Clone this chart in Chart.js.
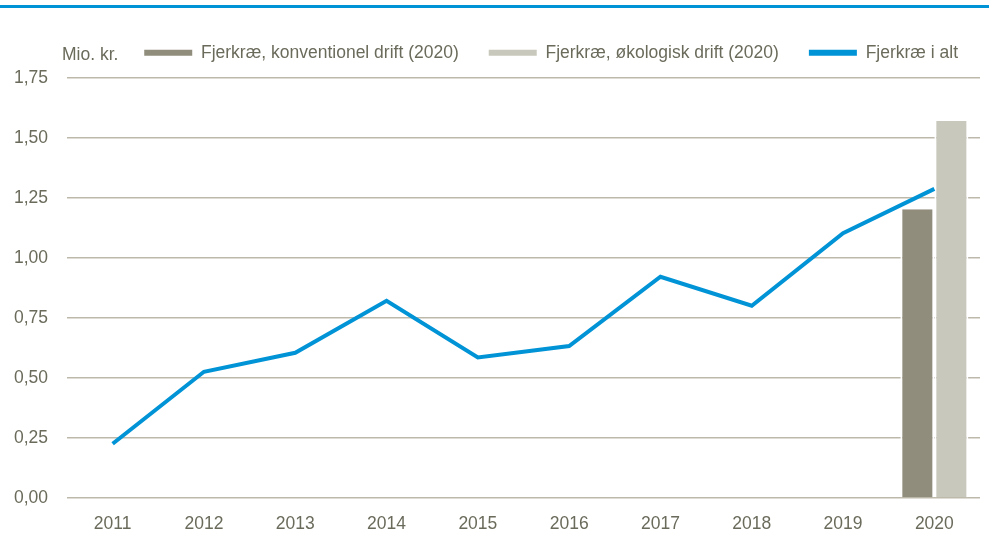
<!DOCTYPE html>
<html>
<head>
<meta charset="utf-8">
<script src="https://cdn.jsdelivr.net/npm/chart.js@4/dist/chart.umd.min.js"></script>
<style>
    html, body { margin: 0; padding: 0; background: #fff; }
    #wrap { position: relative; width: 989px; height: 540px; }
    #topline { position: absolute; left: 0; top: 5px; width: 989px; height: 3px; background: #0093d6; }
    #myChart { position: absolute; left: 0; top: 0; }
</style>
</head>
<body>
<div id="wrap">
    <canvas id="myChart" width="989" height="540"></canvas>
    <div id="topline"></div>
</div>
<script>
// data
var years = ['2011','2012','2013','2014','2015','2016','2017','2018','2019','2020'];
var konventionel = [null,null,null,null,null,null,null,null,null,1.203];
var oekologisk = [null,null,null,null,null,null,null,null,null,1.571];
var i_alt = [0.226,0.526,0.605,0.822,0.586,0.633,0.922,0.801,1.103,1.288];
var y_ticks = ['0,00','0,25','0,50','0,75','1,00','1,25','1,50','1,75'];

var txt_color = '#6b6b5c';
var grid_color = '#bdb9aa';
var font_family = '"Liberation Sans", Arial, sans-serif';
var font_size = 17.5;

// "Mio. kr." over y-aksen
var unitLabel = {
    id: 'unitLabel',
    afterDraw: function(chart) {
        var ctx = chart.ctx;
        ctx.save();
        ctx.fillStyle = txt_color;
        ctx.font = font_size + 'px ' + font_family;
        ctx.textBaseline = 'middle';
        ctx.textAlign = 'left';
        ctx.fillText('Mio. kr.', 62, 55);
        ctx.restore();
    }
};

// legenden må ikke skubbe plotområdet så langt ned, og rykkes lidt til højre
var legendFit = {
    id: 'legendFit',
    afterInit: function(chart) {
        var lg = chart.legend;
        var fit = lg.fit;
        var draw = lg.draw;
        lg.fit = function() {
            fit.call(this);
            this.height = 64;
        };
        lg.draw = function() {
            var c = this.ctx;
            c.save();
            c.translate(8, 0);
            draw.apply(this, arguments);
            c.restore();
        };
    }
};

var ctx = document.getElementById('myChart');

var myChart = new Chart(ctx, {
    type: 'bar',
    data: {
        labels: years,
        datasets: [{
            type: 'line',
            label: 'Fjerkræ i alt',
            data: i_alt,
            borderColor: '#0093d6',
            backgroundColor: '#0093d6',
            borderWidth: 4,
            pointRadius: 0,
            tension: 0,
            order: 0
        }, {
            label: 'Fjerkræ, konventionel drift (2020)',
            data: konventionel,
            backgroundColor: '#908d7d',
            borderColor: '#ffffff',
            borderWidth: { top: 0, left: 2, right: 2, bottom: 0 },
            order: 1
        }, {
            label: 'Fjerkræ, økologisk drift (2020)',
            data: oekologisk,
            backgroundColor: '#c9c8bc',
            borderColor: '#ffffff',
            borderWidth: { top: 0, left: 2, right: 2, bottom: 0 },
            order: 1
        }]
    },
    options: {
        responsive: false,
        animation: false,
        categoryPercentage: 0.745,
        barPercentage: 1,
        layout: {
            padding: { left: 0, right: 9, top: 14, bottom: 6.5 }
        },
        plugins: {
            tooltip: { enabled: false },
            legend: {
                position: 'top',
                align: 'end',
                labels: {
                    color: txt_color,
                    font: { family: font_family, size: font_size },
                    boxWidth: 48,
                    boxHeight: 6,
                    padding: 30,
                    generateLabels: function(chart) {
                        var ds = chart.data.datasets;
                        return [1, 2, 0].map(function(i) {
                            return {
                                text: ds[i].label,
                                fillStyle: ds[i].backgroundColor,
                                strokeStyle: ds[i].backgroundColor,
                                lineWidth: 0,
                                fontColor: txt_color,
                                datasetIndex: i
                            };
                        });
                    }
                }
            }
        },
        scales: {
            x: {
                afterFit: function(scale) { scale.height = 35.5; },
                grid: { display: false, drawTicks: false },
                border: { display: false },
                ticks: {
                    color: txt_color,
                    font: { family: font_family, size: font_size },
                    padding: 16,
                    maxRotation: 0
                }
            },
            y: {
                min: 0,
                max: 1.75,
                afterFit: function(scale) { scale.width = 67; },
                grid: { color: grid_color, lineWidth: 1.5, drawTicks: false },
                border: { display: false },
                ticks: {
                    stepSize: 0.25,
                    color: txt_color,
                    font: { family: font_family, size: font_size },
                    padding: 19,
                    callback: function(value, index) { return y_ticks[index]; }
                }
            }
        }
    },
    plugins: [unitLabel, legendFit]
});
</script>
</body>
</html>
